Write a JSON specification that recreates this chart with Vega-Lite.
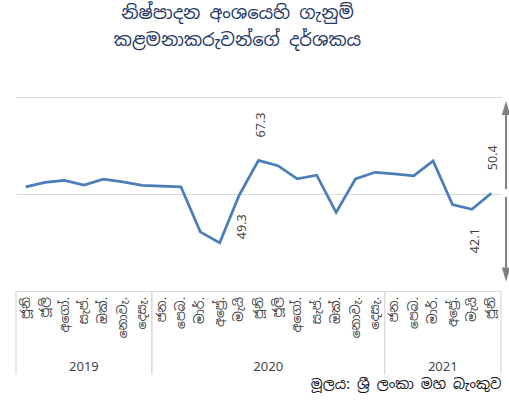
{
  "$schema": "https://vega.github.io/schema/vega-lite/v6.json",
  "width": 485,
  "height": 194,
  "autosize": "none",
  "padding": {"left": 16, "top": 97, "right": 8, "bottom": 115},
  "config": {
    "view": {"stroke": null},
    "font": "Noto Sans Sinhala, Iskoola Pota, Noto Sans, DejaVu Sans, sans-serif"
  },
  "title": {
    "text": ["නිෂ්පාදන අංශයෙහි ගැනුම්", "කළමනාකරුවන්ගේ දර්ශකය"],
    "fontSize": 18,
    "fontWeight": "normal",
    "color": "#1f3864",
    "anchor": "middle",
    "dx": -21,
    "offset": 47,
    "lineHeight": 27
  },
  "datasets": {
    "pmi": [
      {"n": 1, "month": "ජූනි", "year": "2019", "pmi": 53.7, "label": null},
      {"n": 2, "month": "ජූලි", "year": "2019", "pmi": 56.0, "label": null},
      {"n": 3, "month": "අගෝ.", "year": "2019", "pmi": 57.0, "label": null},
      {"n": 4, "month": "සැප්.", "year": "2019", "pmi": 54.6, "label": null},
      {"n": 5, "month": "ඔක්.", "year": "2019", "pmi": 57.7, "label": null},
      {"n": 6, "month": "නොවැ.", "year": "2019", "pmi": 56.3, "label": null},
      {"n": 7, "month": "දෙසැ.", "year": "2019", "pmi": 54.4, "label": null},
      {"n": 8, "month": "ජන.", "year": "2020", "pmi": 54.1, "label": null},
      {"n": 9, "month": "පෙබ.", "year": "2020", "pmi": 53.7, "label": null},
      {"n": 10, "month": "මාර්.", "year": "2020", "pmi": 30.5, "label": null},
      {"n": 11, "month": "අප්‍රේ.", "year": "2020", "pmi": 24.8, "label": null},
      {"n": 12, "month": "මැයි", "year": "2020", "pmi": 49.3, "label": "below"},
      {"n": 13, "month": "ජූනි", "year": "2020", "pmi": 67.3, "label": "above"},
      {"n": 14, "month": "ජූලි", "year": "2020", "pmi": 64.6, "label": null},
      {"n": 15, "month": "අගෝ.", "year": "2020", "pmi": 57.8, "label": null},
      {"n": 16, "month": "සැප්.", "year": "2020", "pmi": 59.7, "label": null},
      {"n": 17, "month": "ඔක්.", "year": "2020", "pmi": 40.5, "label": null},
      {"n": 18, "month": "නොවැ.", "year": "2020", "pmi": 57.8, "label": null},
      {"n": 19, "month": "දෙසැ.", "year": "2020", "pmi": 61.2, "label": null},
      {"n": 20, "month": "ජන.", "year": "2021", "pmi": 60.4, "label": null},
      {"n": 21, "month": "පෙබ.", "year": "2021", "pmi": 59.4, "label": null},
      {"n": 22, "month": "මාර්.", "year": "2021", "pmi": 67.0, "label": null},
      {"n": 23, "month": "අප්‍රේ.", "year": "2021", "pmi": 44.5, "label": null},
      {"n": 24, "month": "මැයි", "year": "2021", "pmi": 42.1, "label": "below"},
      {"n": 25, "month": "ජූනි", "year": "2021", "pmi": 50.4, "label": "above"}
    ],
    "years": [
      {"year": "2019", "start": 0.5, "end": 7.5, "mid": 4},
      {"year": "2020", "start": 7.5, "end": 19.5, "mid": 13.5},
      {"year": "2021", "start": 19.5, "end": 25.5, "mid": 22.5}
    ]
  },
  "layer": [
    {
      "data": {"name": "pmi"},
      "mark": {"type": "line", "color": "#4a7ebb", "strokeWidth": 2.75},
      "encoding": {
        "x": {
          "field": "n", "type": "quantitative",
          "scale": {"domain": [0.5, 25.5], "nice": false, "zero": false},
          "axis": {
            "title": "මූලය: ශ්‍රී ලංකා මහ බැංකුව",
            "titleAnchor": "end",
            "titlePadding": 86,
            "titleFontSize": 14,
            "titleFontWeight": "normal",
            "titleColor": "#111111",
            "labels": false, "ticks": false, "domain": false, "grid": false
          }
        },
        "y": {
          "field": "pmi", "type": "quantitative",
          "scale": {"domain": [0, 100], "nice": false},
          "axis": {
            "title": null, "labels": false, "ticks": false, "domain": false,
            "grid": true, "gridColor": "#d9d9d9", "gridWidth": 1.2, "values": [0, 50, 100]
          }
        }
      }
    },
    {
      "data": {"name": "pmi"},
      "mark": {"type": "text", "angle": 270, "align": "right", "baseline": "middle", "dx": -6, "fontSize": 12.5, "color": "#404040"},
      "encoding": {
        "x": {"field": "n", "type": "quantitative"},
        "y": {"datum": 0},
        "text": {"field": "month"}
      }
    },
    {
      "data": {"name": "pmi"},
      "transform": [{"filter": "datum.label == 'above'"}],
      "mark": {"type": "text", "angle": 270, "align": "left", "baseline": "middle", "dx": 23, "dy": 2, "fontSize": 12.5, "color": "#404040"},
      "encoding": {
        "x": {"field": "n", "type": "quantitative"},
        "y": {"field": "pmi", "type": "quantitative"},
        "text": {"field": "pmi", "type": "quantitative", "format": ".1f"}
      }
    },
    {
      "data": {"name": "pmi"},
      "transform": [{"filter": "datum.label == 'below'"}],
      "mark": {"type": "text", "angle": 270, "align": "right", "baseline": "middle", "dx": -19, "dy": 3, "fontSize": 12.5, "color": "#404040"},
      "encoding": {
        "x": {"field": "n", "type": "quantitative"},
        "y": {"field": "pmi", "type": "quantitative"},
        "text": {"field": "pmi", "type": "quantitative", "format": ".1f"}
      }
    },
    {
      "data": {"name": "years"},
      "mark": {"type": "rule", "color": "#d9d9d9", "strokeWidth": 1.2},
      "encoding": {
        "x": {"field": "start", "type": "quantitative"},
        "y": {"datum": 0},
        "y2": {"datum": -43}
      }
    },
    {
      "data": {"name": "years"},
      "mark": {"type": "rule", "color": "#d9d9d9", "strokeWidth": 1.2},
      "encoding": {
        "x": {"field": "end", "type": "quantitative"},
        "y": {"datum": 0},
        "y2": {"datum": -43}
      }
    },
    {
      "data": {"name": "years"},
      "mark": {"type": "text", "baseline": "middle", "align": "center", "fontSize": 13, "color": "#404040"},
      "encoding": {
        "x": {"field": "mid", "type": "quantitative"},
        "y": {"datum": -39},
        "text": {"field": "year"}
      }
    },
    {
      "data": {"values": [{}]},
      "mark": {"type": "rule", "color": "#7f7f7f", "strokeWidth": 2},
      "encoding": {
        "x": {"datum": 25.76},
        "y": {"datum": 52.5},
        "y2": {"datum": 91}
      }
    },
    {
      "data": {"values": [{}]},
      "mark": {"type": "rule", "color": "#7f7f7f", "strokeWidth": 2},
      "encoding": {
        "x": {"datum": 25.76},
        "y": {"datum": 48.5},
        "y2": {"datum": 12}
      }
    },
    {
      "data": {"values": [{}]},
      "mark": {"type": "point", "filled": true, "opacity": 1, "color": "#7f7f7f", "size": 196, "shape": "M-0.6,1L0,-1L0.6,1Z"},
      "encoding": {
        "x": {"datum": 25.76},
        "y": {"datum": 94.3}
      }
    },
    {
      "data": {"values": [{}]},
      "mark": {"type": "point", "filled": true, "opacity": 1, "color": "#7f7f7f", "size": 196, "shape": "M-0.6,-1L0,1L0.6,-1Z"},
      "encoding": {
        "x": {"datum": 25.76},
        "y": {"datum": 8.5}
      }
    }
  ]
}
